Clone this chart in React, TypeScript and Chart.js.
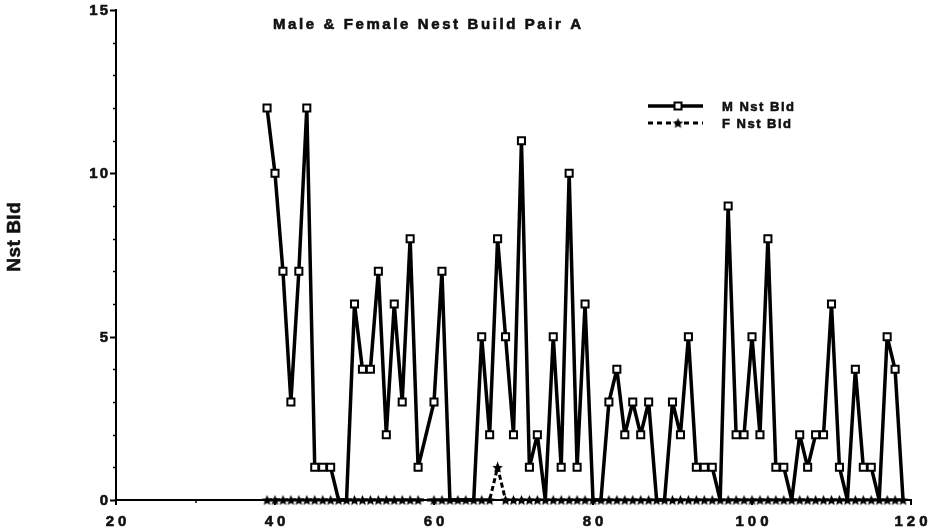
import { useEffect, useRef } from "react";
import { Chart, registerables } from "chart.js";

Chart.register(...registerables);

// Observation days (day 59 was not recorded)
const days = [
  39, 40, 41, 42, 43, 44, 45, 46, 47, 48, 49, 50, 51, 52, 53, 54, 55, 56, 57, 58,
  60, 61, 62, 63, 64, 65, 66, 67, 68, 69, 70, 71, 72, 73, 74, 75, 76, 77, 78, 79,
  80, 81, 82, 83, 84, 85, 86, 87, 88, 89, 90, 91, 92, 93, 94, 95, 96, 97, 98, 99,
  100, 101, 102, 103, 104, 105, 106, 107, 108, 109, 110, 111, 112, 113, 114, 115, 116, 117, 118, 119,
];

// Male nest-building counts per day
const maleNestBuild = [
  12, 10, 7, 3, 7, 12, 1, 1, 1, 0, 0, 6, 4, 4, 7, 2, 6, 3, 8, 1,
  3, 7, 0, 0, 0, 0, 5, 2, 8, 5, 2, 11, 1, 2, 0, 5, 1, 10, 1, 6,
  0, 0, 3, 4, 2, 3, 2, 3, 0, 0, 3, 2, 5, 1, 1, 1, 0, 9, 2, 2,
  5, 2, 8, 1, 1, 0, 2, 1, 2, 2, 6, 1, 0, 4, 1, 1, 0, 5, 4, 0,
];

// Female nest-building counts per day
const femaleNestBuild = [
  0, 0, 0, 0, 0, 0, 0, 0, 0, 0, 0, 0, 0, 0, 0, 0, 0, 0, 0, 0,
  0, 0, 0, 0, 0, 0, 0, 0, 1, 0, 0, 0, 0, 0, 0, 0, 0, 0, 0, 0,
  0, 0, 0, 0, 0, 0, 0, 0, 0, 0, 0, 0, 0, 0, 0, 0, 0, 0, 0, 0,
  0, 0, 0, 0, 0, 0, 0, 0, 0, 0, 0, 0, 0, 0, 0, 0, 0, 0, 0, 0,
];

const xMajorTicks = [20, 40, 60, 80, 100, 120];
const xMinorTicks = [30, 50, 70, 90, 110];
const yMajorTicks = [0, 5, 10, 15];
const yMinorTicks = [1, 2, 3, 4, 6, 7, 8, 9, 11, 12, 13, 14];

const chartTitle = "Male & Female Nest Build Pair A";
const yAxisTitle = "Nst Bld";
const seriesNames = ["M Nst Bld", "F Nst Bld"];

const FONT = '"Liberation Sans", Arial, Helvetica, sans-serif';
const INK = "#111";

function makeStar(outer: number, inner: number): HTMLCanvasElement {
  const size = Math.ceil(outer * 2 + 2);
  const c = document.createElement("canvas");
  c.width = size;
  c.height = size;
  const g = c.getContext("2d")!;
  g.translate(size / 2, size / 2 + 0.5);
  g.beginPath();
  for (let i = 0; i < 10; i++) {
    const r = i % 2 ? inner : outer;
    const a = -Math.PI / 2 + (i * Math.PI) / 5;
    g.lineTo(r * Math.cos(a), r * Math.sin(a));
  }
  g.closePath();
  g.fillStyle = "#000";
  g.fill();
  return c;
}

// Heavy text with optional tracking (fill plus a thin stroke for weight)
function spacedText(
  ctx: CanvasRenderingContext2D,
  text: string,
  x: number,
  y: number,
  align: "left" | "center" | "right",
  spacing: number
) {
  (ctx as any).letterSpacing = spacing + "px";
  const w = ctx.measureText(text).width - spacing;
  const left = align === "left" ? x : align === "center" ? x - w / 2 : x - w;
  ctx.textAlign = "left";
  ctx.lineWidth = 0.6;
  ctx.strokeStyle = INK;
  ctx.fillText(text, left, y);
  ctx.strokeText(text, left, y);
  (ctx as any).letterSpacing = "0px";
}

export default function App() {
  const canvasRef = useRef<HTMLCanvasElement | null>(null);

  useEffect(() => {
    const canvas = canvasRef.current;
    if (!canvas) return;
    const star = makeStar(5.5, 2.6);

    const decorations = {
      id: "decorations",
      afterDraw(chart: any) {
        const { ctx, chartArea } = chart;
        const xs = chart.scales.x;
        const ys = chart.scales.y;
        const left = chartArea.left;
        const bottom = chartArea.bottom;
        ctx.save();
        ctx.strokeStyle = "#000";
        ctx.fillStyle = INK;

        // y-axis tick marks
        ctx.lineWidth = 2;
        for (const v of yMajorTicks) {
          const y = Math.round(ys.getPixelForValue(v)) + 0.5;
          ctx.beginPath();
          ctx.moveTo(left - 6, y);
          ctx.lineTo(left, y);
          ctx.stroke();
        }
        ctx.lineWidth = 1.5;
        for (const v of yMinorTicks) {
          const y = Math.round(ys.getPixelForValue(v)) + 0.5;
          ctx.beginPath();
          ctx.moveTo(left - 3, y);
          ctx.lineTo(left, y);
          ctx.stroke();
        }
        // x-axis tick marks
        ctx.lineWidth = 2;
        for (const v of xMajorTicks) {
          const x = Math.round(xs.getPixelForValue(v));
          ctx.beginPath();
          ctx.moveTo(x, bottom);
          ctx.lineTo(x, bottom + 5);
          ctx.stroke();
        }
        ctx.lineWidth = 1.5;
        for (const v of xMinorTicks) {
          const x = Math.round(xs.getPixelForValue(v));
          ctx.beginPath();
          ctx.moveTo(x, bottom);
          ctx.lineTo(x, bottom + 3);
          ctx.stroke();
        }

        // tick labels
        ctx.font = `bold 15px ${FONT}`;
        ctx.textBaseline = "middle";
        for (const v of yMajorTicks) {
          spacedText(ctx, String(v), left - 8, ys.getPixelForValue(v) + 1, "right", 2);
        }
        for (const v of xMajorTicks) {
          spacedText(ctx, String(v), xs.getPixelForValue(v), bottom + 22, "center", 4);
        }

        // chart title
        ctx.font = `bold 15px ${FONT}`;
        ctx.textBaseline = "alphabetic";
        spacedText(ctx, chartTitle, 273, 29, "left", 2.6);

        // y-axis title
        ctx.save();
        ctx.translate(15, (chartArea.top + bottom) / 2 - 18);
        ctx.rotate(-Math.PI / 2);
        ctx.font = `bold 19px ${FONT}`;
        ctx.textBaseline = "middle";
        spacedText(ctx, yAxisTitle, 0, 0, "center", 0.5);
        ctx.restore();

        // legend
        const lx0 = 648;
        const lx1 = 703;
        const mx = 678;
        const rows = [106, 123];
        ctx.strokeStyle = "#000";
        ctx.lineWidth = 3.5;
        ctx.beginPath();
        ctx.moveTo(lx0, rows[0]);
        ctx.lineTo(lx1, rows[0]);
        ctx.stroke();
        ctx.fillStyle = "#fff";
        ctx.lineWidth = 2;
        ctx.fillRect(mx - 3.5, rows[0] - 3.5, 7, 7);
        ctx.strokeRect(mx - 3.5, rows[0] - 3.5, 7, 7);

        ctx.lineWidth = 3;
        ctx.setLineDash([5, 4]);
        ctx.beginPath();
        ctx.moveTo(lx0, rows[1]);
        ctx.lineTo(lx1, rows[1]);
        ctx.stroke();
        ctx.setLineDash([]);
        ctx.drawImage(star, mx - star.width / 2, rows[1] - star.height / 2);

        ctx.fillStyle = INK;
        ctx.font = `bold 13px ${FONT}`;
        ctx.textBaseline = "middle";
        spacedText(ctx, seriesNames[0], 722, rows[0] + 1, "left", 1.5);
        spacedText(ctx, seriesNames[1], 722, rows[1] + 1, "left", 1.5);

        ctx.restore();
      },
    };

    const maleData = days.map((d, i) => ({ x: d, y: maleNestBuild[i] }));
    const femaleData = days.map((d, i) => ({ x: d, y: femaleNestBuild[i] }));

    const chart = new Chart(canvas, {
      type: "line",
      data: {
        datasets: [
          {
            label: seriesNames[0],
            data: maleData,
            borderColor: "#000",
            borderWidth: 3.5,
            borderJoinStyle: "round",
            pointStyle: "rect",
            pointRadius: (c: any) => (c.raw && c.raw.y === 0 ? 0 : 5),
            pointBorderWidth: 2,
            pointBackgroundColor: "#fff",
            pointBorderColor: "#000",
            tension: 0,
            clip: false,
          },
          {
            label: seriesNames[1],
            data: femaleData,
            borderColor: "#000",
            borderWidth: 3,
            borderDash: [5, 3],
            pointStyle: star,
            pointRadius: 4,
            tension: 0,
            clip: false,
          },
        ],
      },
      options: {
        animation: false,
        responsive: false,
        parsing: false,
        layout: { padding: { left: 0, right: 27, top: 10, bottom: 0 } },
        plugins: {
          legend: { display: false },
          title: { display: false },
          tooltip: { enabled: false },
        },
        scales: {
          x: {
            type: "linear",
            min: 20,
            max: 120,
            grid: { display: false },
            ticks: { display: false },
            border: { display: true, color: "#000", width: 2 },
            afterFit: (s: any) => {
              s.height = 32;
            },
          },
          y: {
            type: "linear",
            min: 0,
            max: 15,
            grid: { display: false },
            ticks: { display: false },
            border: { display: true, color: "#000", width: 2 },
            afterFit: (s: any) => {
              s.width = 116;
            },
          },
        },
      },
      plugins: [decorations],
    } as any);

    return () => chart.destroy();
  }, []);

  return (
    <div style={{ position: "fixed", left: 0, top: 0, width: 938, height: 532, background: "#fff" }}>
      <canvas ref={canvasRef} width={938} height={532} />
    </div>
  );
}
